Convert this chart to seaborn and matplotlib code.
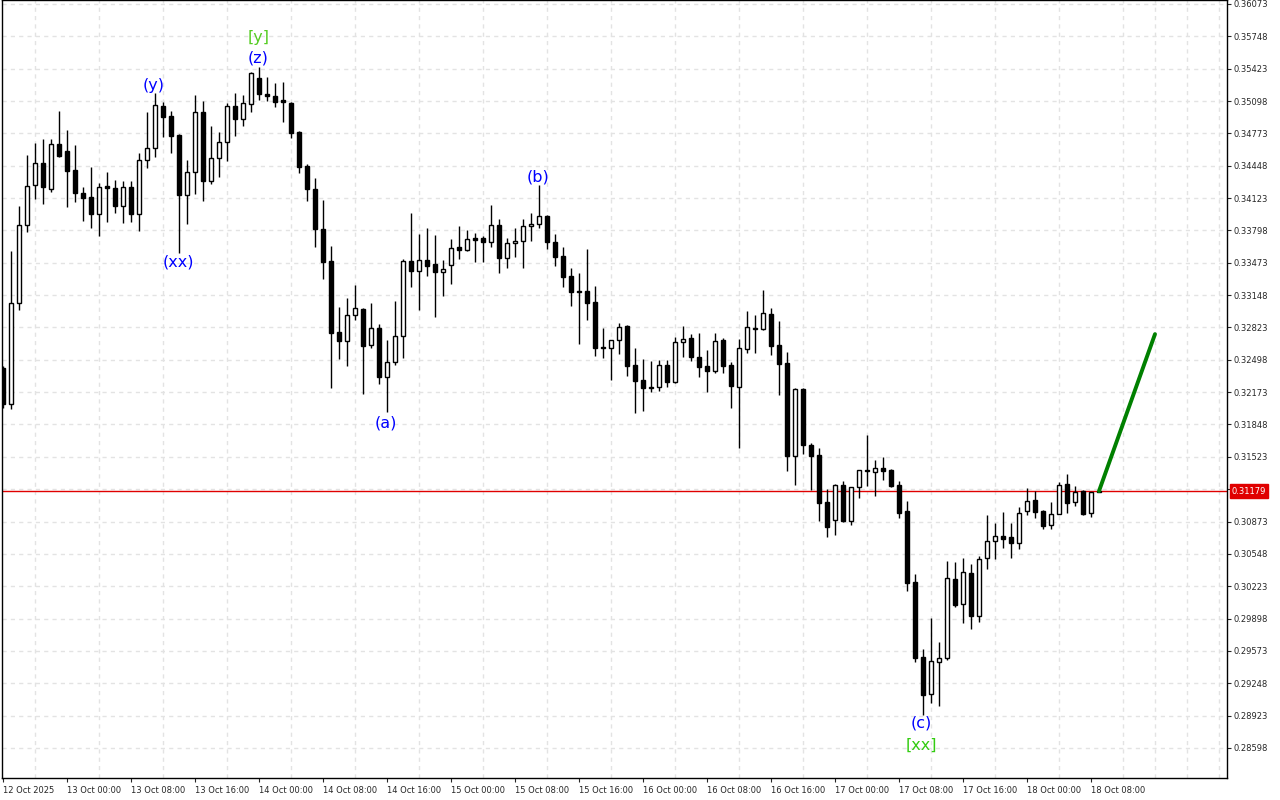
import numpy as np
import pandas as pd
import matplotlib
matplotlib.use("Agg")
import matplotlib.pyplot as plt
import matplotlib.transforms as mtransforms
import seaborn as sns

sns.set_style("white")
plt.rcParams['font.family'] = ['DejaVu Sans']

# --------------------------- data (hourly candles, 12 Oct 16:00 -> 18 Oct 09:00) ---------------------------
opens = [
    0.32415, 0.32053, 0.33068, 0.33852, 0.34254, 0.34475, 0.34214, 0.34666, 0.34595, 0.34404,
    0.34173, 0.34133, 0.33962, 0.34244, 0.34224, 0.34043, 0.34234, 0.33962, 0.34505, 0.34626,
    0.35048, 0.34947, 0.34756, 0.34153, 0.34384, 0.34987, 0.34294, 0.34525, 0.34686, 0.35048,
    0.34917, 0.35068, 0.35329, 0.35168, 0.35148, 0.35108, 0.35078, 0.34786, 0.34445, 0.34214,
    0.33812, 0.33490, 0.32776, 0.32686, 0.32947, 0.33008, 0.32646, 0.32817, 0.32324, 0.32475,
    0.32736, 0.33490, 0.33389, 0.33500, 0.33460, 0.33379, 0.33450, 0.33631, 0.33600, 0.33721,
    0.33721, 0.33681, 0.33852, 0.33520, 0.33671, 0.33691, 0.33842, 0.33862, 0.33942, 0.33681,
    0.33540, 0.33339, 0.33188, 0.33188, 0.33078, 0.32626, 0.32616, 0.32696, 0.32837, 0.32445,
    0.32294, 0.32224, 0.32224, 0.32445, 0.32274, 0.32676, 0.32716, 0.32525, 0.32435, 0.32384,
    0.32696, 0.32445, 0.32224, 0.32606, 0.32807, 0.32807, 0.32957, 0.32646, 0.32465, 0.31530,
    0.32204, 0.31641, 0.31540, 0.31068, 0.30887, 0.31239, 0.30877, 0.31219, 0.31389, 0.31369,
    0.31410, 0.31389, 0.31239, 0.30977, 0.30264, 0.29510, 0.29138, 0.29460, 0.29500, 0.30294,
    0.30043, 0.30354, 0.29922, 0.30505, 0.30676, 0.30726, 0.30716, 0.30656, 0.30977, 0.31088,
    0.30977, 0.30837, 0.30947, 0.31249, 0.31068, 0.31178, 0.30957, 0.31168]
highs = [
    0.32435, 0.33590, 0.34043, 0.34555, 0.34676, 0.34716, 0.34716, 0.34997, 0.34806, 0.34656,
    0.34234, 0.34435, 0.34274, 0.34384, 0.34304, 0.34294, 0.34294, 0.34575, 0.34987, 0.35178,
    0.35088, 0.34997, 0.34766, 0.34505, 0.35158, 0.35098, 0.34847, 0.34786, 0.35078, 0.35178,
    0.35158, 0.35389, 0.35440, 0.35339, 0.35279, 0.35289, 0.35088, 0.34796, 0.34465, 0.34324,
    0.34103, 0.33641, 0.33028, 0.33118, 0.33249, 0.33018, 0.33068, 0.32857, 0.32696, 0.33088,
    0.33510, 0.33972, 0.33761, 0.33822, 0.33751, 0.33500, 0.33711, 0.33842, 0.33801, 0.33771,
    0.33741, 0.34053, 0.33912, 0.33721, 0.33822, 0.33912, 0.33972, 0.34254, 0.33952, 0.33761,
    0.33631, 0.33420, 0.33369, 0.33611, 0.33239, 0.32817, 0.32696, 0.32867, 0.32847, 0.32616,
    0.32505, 0.32485, 0.32495, 0.32495, 0.32726, 0.32837, 0.32756, 0.32766, 0.32595, 0.32766,
    0.32716, 0.32475, 0.32706, 0.32987, 0.32947, 0.33198, 0.33018, 0.32887, 0.32575, 0.32214,
    0.32214, 0.31661, 0.31611, 0.31199, 0.31249, 0.31279, 0.31219, 0.31389, 0.31741, 0.31490,
    0.31520, 0.31400, 0.31279, 0.31078, 0.30344, 0.29591, 0.29902, 0.29661, 0.30475, 0.30465,
    0.30505, 0.30445, 0.30525, 0.30937, 0.30857, 0.30967, 0.30857, 0.31018, 0.31209, 0.31178,
    0.30987, 0.31068, 0.31269, 0.31349, 0.31229, 0.31188, 0.30977, 0.31188]
lows = [
    0.32013, 0.32002, 0.32997, 0.33781, 0.34113, 0.34063, 0.34183, 0.34535, 0.34033, 0.34083,
    0.33892, 0.33822, 0.33741, 0.33882, 0.33972, 0.33872, 0.33882, 0.33791, 0.34425, 0.34535,
    0.34736, 0.34575, 0.33570, 0.33862, 0.34163, 0.34093, 0.34264, 0.34334, 0.34495, 0.34746,
    0.34847, 0.34987, 0.35108, 0.35098, 0.35038, 0.34887, 0.34726, 0.34374, 0.34093, 0.33631,
    0.33309, 0.32214, 0.32505, 0.32435, 0.32897, 0.32153, 0.32616, 0.32254, 0.31972, 0.32445,
    0.32515, 0.33229, 0.32997, 0.33339, 0.32927, 0.33138, 0.33259, 0.33510, 0.33590, 0.33480,
    0.33480, 0.33631, 0.33369, 0.33420, 0.33530, 0.33420, 0.33691, 0.33822, 0.33611, 0.33440,
    0.33229, 0.33038, 0.32656, 0.32897, 0.32535, 0.32515, 0.32294, 0.32555, 0.32334, 0.31962,
    0.31982, 0.32173, 0.32183, 0.32224, 0.32264, 0.32525, 0.32485, 0.32324, 0.32173, 0.32364,
    0.32364, 0.32013, 0.31611, 0.32565, 0.32565, 0.32796, 0.32545, 0.32143, 0.31379, 0.31239,
    0.31550, 0.31188, 0.30877, 0.30716, 0.30736, 0.30867, 0.30837, 0.31108, 0.31229, 0.31128,
    0.31289, 0.31219, 0.30907, 0.30173, 0.29460, 0.28932, 0.29048, 0.29018, 0.29480, 0.30013,
    0.29852, 0.29792, 0.29862, 0.30395, 0.30495, 0.30606, 0.30505, 0.30596, 0.30937, 0.30907,
    0.30797, 0.30797, 0.30947, 0.30957, 0.31028, 0.30937, 0.30917, 0.31168]
closes = [
    0.32053, 0.33068, 0.33852, 0.34244, 0.34475, 0.34234, 0.34666, 0.34545, 0.34394, 0.34173,
    0.34123, 0.33962, 0.34234, 0.34224, 0.34043, 0.34234, 0.33962, 0.34505, 0.34626, 0.35058,
    0.34937, 0.34746, 0.34153, 0.34384, 0.34987, 0.34294, 0.34525, 0.34686, 0.35048, 0.34917,
    0.35078, 0.35379, 0.35168, 0.35148, 0.35088, 0.35088, 0.34776, 0.34435, 0.34214, 0.33812,
    0.33480, 0.32766, 0.32686, 0.32947, 0.33018, 0.32636, 0.32817, 0.32324, 0.32475, 0.32736,
    0.33490, 0.33389, 0.33500, 0.33440, 0.33379, 0.33410, 0.33621, 0.33600, 0.33711, 0.33701,
    0.33681, 0.33852, 0.33520, 0.33671, 0.33691, 0.33842, 0.33862, 0.33942, 0.33681, 0.33530,
    0.33329, 0.33178, 0.33178, 0.33068, 0.32616, 0.32616, 0.32696, 0.32827, 0.32435, 0.32284,
    0.32214, 0.32214, 0.32445, 0.32274, 0.32676, 0.32706, 0.32525, 0.32425, 0.32384, 0.32686,
    0.32435, 0.32234, 0.32616, 0.32827, 0.32817, 0.32967, 0.32636, 0.32455, 0.31530, 0.32204,
    0.31641, 0.31530, 0.31058, 0.30817, 0.31239, 0.30877, 0.31219, 0.31389, 0.31379, 0.31410,
    0.31379, 0.31229, 0.30957, 0.30254, 0.29500, 0.29128, 0.29470, 0.29500, 0.30304, 0.30033,
    0.30364, 0.29922, 0.30495, 0.30676, 0.30726, 0.30696, 0.30656, 0.30957, 0.31078, 0.30967,
    0.30827, 0.30947, 0.31239, 0.31058, 0.31168, 0.30947, 0.31168, 0.31179]

last_price = 0.31179

# forecast arrow (candle index, price)
forecast_x = [137, 144]
forecast_y = [0.31179, 0.32756]

# wave labels
wave_texts = ["(y)", "(xx)", "[y]", "(z)", "(a)", "(b)", "(c)", "[xx]"]
wave_x = [18.8, 21.9, 31.9, 31.9, 47.9, 66.9, 114.8, 114.8]
wave_y = [0.35249, 0.33480, 0.35741, 0.35530, 0.31862, 0.34334, 0.28847, 0.28626]
wave_colors = ["blue", "blue", "#55cc22", "blue", "blue", "blue", "blue", "#33cc11"]

time_labels = ["12 Oct 2025", "13 Oct 00:00", "13 Oct 08:00", "13 Oct 16:00", "14 Oct 00:00",
               "14 Oct 08:00", "14 Oct 16:00", "15 Oct 00:00", "15 Oct 08:00", "15 Oct 16:00",
               "16 Oct 00:00", "16 Oct 08:00", "16 Oct 16:00", "17 Oct 00:00", "17 Oct 08:00",
               "17 Oct 16:00", "18 Oct 00:00", "18 Oct 08:00"]
price_ticks = [0.36073, 0.35748, 0.35423, 0.35098, 0.34773, 0.34448, 0.34123, 0.33798,
               0.33473, 0.33148, 0.32823, 0.32498, 0.32173, 0.31848, 0.31523, 0.31198,
               0.30873, 0.30548, 0.30223, 0.29898, 0.29573, 0.29248, 0.28923, 0.28598]

# --------------------------- build frame ---------------------------
df = pd.DataFrame({"open": opens, "high": highs, "low": lows, "close": closes})
df["idx"] = np.arange(len(df))
df["bull"] = df["close"] >= df["open"]
df["body_lo"] = df[["open", "close"]].min(axis=1)
df["body_h"] = (df["close"] - df["open"]).abs().clip(lower=0.00002)

# --------------------------- figure ---------------------------
fig = plt.figure(figsize=(12.8, 8), dpi=100)
ax = fig.add_axes([2 / 1280, 22 / 800, 1225 / 1280, 778 / 800])

grid_kw = dict(color="#e3e3e3", linestyle=(0, (3, 3)), linewidth=1)

# wicks then bodies
ax.vlines(df["idx"], df["low"], df["high"], color="black", linewidth=1, zorder=3)
ax.bar(df["idx"], df["body_h"], bottom=df["body_lo"], width=0.62,
       color=np.where(df["bull"], "white", "black"), edgecolor="black", linewidth=1, zorder=4)

# current price line
ax.axhline(last_price, color="#e00000", linewidth=1, zorder=2)

# forecast
sns.lineplot(x=forecast_x, y=forecast_y, color="#008000", linewidth=2.8, ax=ax, zorder=5)

# wave labels
for t, x, y, c in zip(wave_texts, wave_x, wave_y, wave_colors):
    ax.text(x, y, t, color=c, fontsize=11.5, ha="center", va="center", zorder=6)

# limits
ax.set_xlim(-0.125, 153)
ax.set_ylim(0.28296, 0.36113)

# x axis
ax.set_xticks(np.arange(0, 137, 8))
ax.set_xticklabels(time_labels, fontsize=6, ha="left")
ax.set_xticks(np.arange(4, 153, 4), minor=True)
ax.tick_params(axis="x", which="major", length=3, pad=3, direction="out", bottom=True)
ax.tick_params(axis="x", which="minor", length=0)

# y axis on the right
ax.yaxis.tick_right()
ax.set_yticks(price_ticks)
ax.set_yticklabels([("" if p == 0.31198 else f"{p:.5f}") for p in price_ticks], fontsize=6)
ax.tick_params(axis="y", length=3, pad=2, direction="out", right=True, left=False)

ax.grid(True, which="minor", axis="x", **grid_kw)
ax.grid(True, which="major", axis="y", **grid_kw)
ax.set_axisbelow(True)

for spine in ax.spines.values():
    spine.set_edgecolor("black")
    spine.set_linewidth(1)

# current price tag
trans = mtransforms.blended_transform_factory(ax.transAxes, ax.transData)
ax.text(1.004, last_price, f"{last_price:.5f}", transform=trans, fontsize=6, color="white",
        ha="left", va="center", zorder=7, clip_on=False,
        bbox=dict(boxstyle="square,pad=0.25", fc="#e00000", ec="#e00000"))

fig.savefig("out.png", dpi=100)
